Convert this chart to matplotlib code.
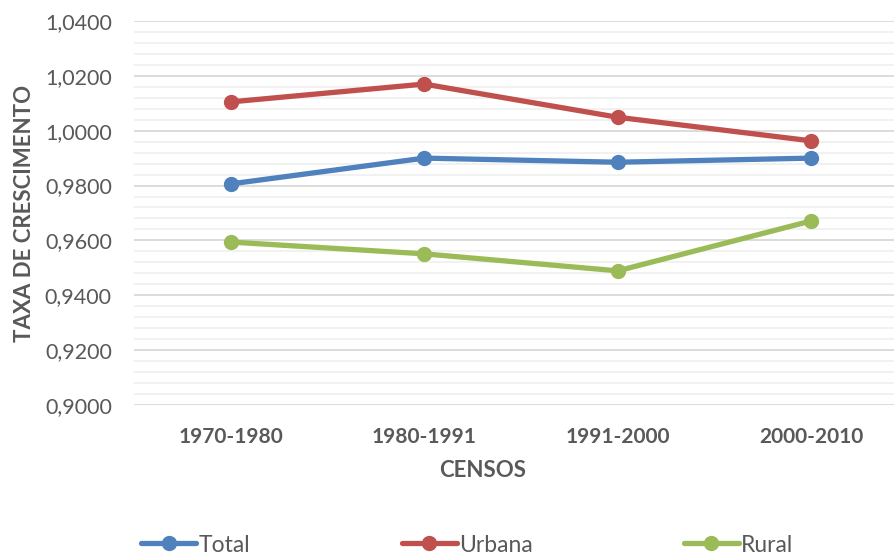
import numpy as np
import matplotlib
matplotlib.use("Agg")
import matplotlib.pyplot as plt
from matplotlib.ticker import MultipleLocator, FuncFormatter

plt.rcParams['font.family'] = ['Lato', 'DejaVu Sans']

censos = ["1970-1980", "1980-1991", "1991-2000", "2000-2010"]
total = [0.9806, 0.9900, 0.9885, 0.9900]
urbana = [1.0105, 1.0170, 1.0049, 0.9963]
rural = [0.9594, 0.9551, 0.9489, 0.9671]

series = [("Total", total, "#4f81bd"),
          ("Urbana", urbana, "#c0504d"),
          ("Rural", rural, "#9bbb59")]

grey = "#595959"

fig = plt.figure(figsize=(8.95, 5.55), dpi=100)
ax = fig.add_axes([0.1497, 0.2703, 0.8648, 0.6919])

x = np.arange(len(censos))
handles = []
for name, vals, col in series:
    h, = ax.plot(x, vals, color=col, lw=3.8, marker="o", markersize=10,
                 solid_capstyle="round", label=name, zorder=3)
    handles.append(h)

ax.set_xlim(-0.5, len(censos) - 0.5)
ax.set_ylim(0.9, 1.04)
ax.yaxis.set_major_locator(MultipleLocator(0.02))
ax.yaxis.set_minor_locator(MultipleLocator(0.004))
ax.yaxis.set_major_formatter(FuncFormatter(lambda v, p: f"{v:.4f}".replace(".", ",")))
ax.grid(which="major", axis="y", color="#d9d9d9", lw=1.3, zorder=0)
ax.grid(which="minor", axis="y", color="#f0f0f0", lw=1.3, zorder=0)
ax.set_axisbelow(True)

for s in ax.spines.values():
    s.set_visible(False)
ax.tick_params(which="both", length=0)
ax.tick_params(axis="y", labelsize=15.5, labelcolor=grey, pad=16)
ax.tick_params(axis="x", labelsize=15, labelcolor=grey, pad=16)
ax.set_xticks(x)
ax.set_xticklabels(censos, fontweight="bold")

ax.set_xlabel("CENSOS", fontsize=16, fontweight="bold", color=grey, va="center")
ax.xaxis.set_label_coords(0.451, -0.171)
ax.set_ylabel("TAXA DE CRESCIMENTO", fontsize=16, fontweight="bold", color=grey, labelpad=7)

leg = fig.legend(handles, [s[0] for s in series], loc="center left",
                 bbox_to_anchor=(0.135, 0.018), ncol=3, frameon=False,
                 fontsize=16.5, handlelength=2.4, handletextpad=0.1,
                 columnspacing=6.6)
for t in leg.get_texts():
    t.set_color(grey)

fig.savefig("out.png", dpi=100)
